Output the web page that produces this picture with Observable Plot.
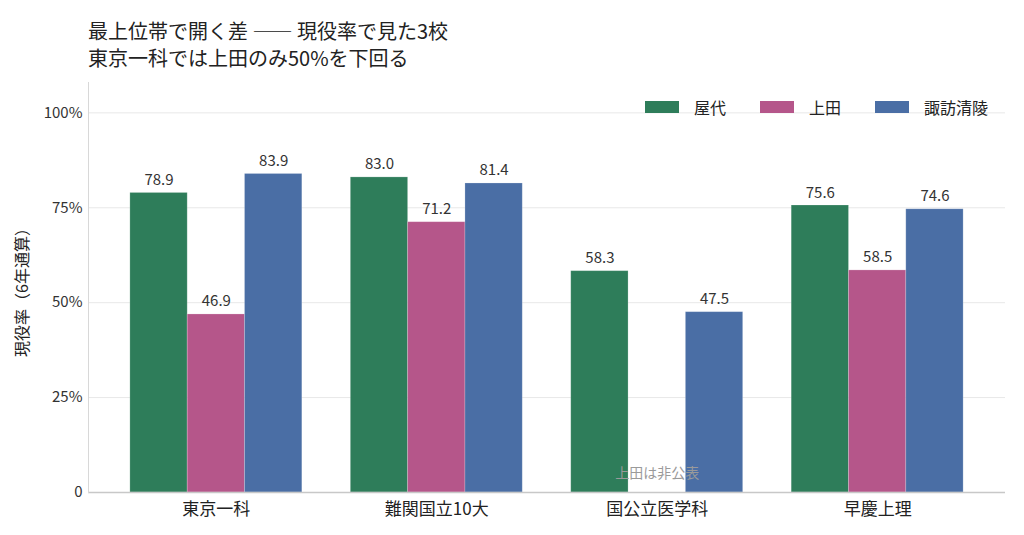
<!DOCTYPE html>
<html>
<head>
<meta charset="utf-8">
<script src="https://cdn.jsdelivr.net/npm/d3@7"></script>
<script src="https://cdn.jsdelivr.net/npm/@observablehq/plot@0.6"></script>
<style>
  body { margin: 0; background: #fff; font-family: "Noto Sans CJK JP", "Noto Sans", sans-serif; }
  #wrap { position: relative; width: 1024px; height: 535px; }
  #title { box-sizing: border-box; height: 72px; padding: 17px 0 0 88px; font-size: 20px; line-height: 27px; color: #222; }
  #legend { position: absolute; top: 95px; left: 645px; display: flex; font-size: 16px; color: #222; }
  .item { display: flex; align-items: center; margin-right: 34px; }
  .sw { width: 34px; height: 12px; margin-right: 15px; }
</style>
</head>
<body>
<div id="wrap">
  <div id="title">最上位帯で開く差 ―― 現役率で見た3校<br>東京一科では上田のみ50%を下回る</div>
  <div id="chart"></div>
  <div id="legend"></div>
</div>
<script>
const categories = ["東京一科", "難関国立10大", "国公立医学科", "早慶上理"];
const schools = ["屋代", "上田", "諏訪清陵"];
const colors = ["#2e7d5a", "#b5568a", "#4a6ea5"];
const yashiro = [78.9, 83.0, 58.3, 75.6];
const ueda = [46.9, 71.2, null, 58.5];
const suwa = [83.9, 81.4, 47.5, 74.6];
const yTicks = [0, 25, 50, 75, 100];
const yLabel = "現役率（6年通算）";
const notes = [{cat: "国公立医学科", note: "上田は非公表"}];

// group layout in category units
const groupWidth = 0.78;
const barWidth = groupWidth / schools.length;

const series = [yashiro, ueda, suwa];
const data = [];
categories.forEach((c, i) => {
  schools.forEach((s, j) => {
    const v = series[j][i];
    if (v != null) {
      const x1 = i - groupWidth / 2 + j * barWidth;
      data.push({cat: c, idx: i, school: s, value: v, x1, x2: x1 + barWidth, xm: x1 + barWidth / 2});
    }
  });
});
const noteData = notes.map(d => ({...d, idx: categories.indexOf(d.cat)}));

const chart = Plot.plot({
  width: 1024,
  height: 463,
  marginTop: 10,
  marginBottom: 43,
  marginLeft: 88,
  marginRight: 19,
  style: {fontFamily: '"Noto Sans CJK JP", "Noto Sans", sans-serif', background: "#fff", overflow: "visible"},
  x: {domain: [-0.58, categories.length - 1 + 0.58], label: null},
  y: {domain: [0, 108], label: null},
  color: {domain: schools, range: colors},
  marks: [
    Plot.ruleY(yTicks.filter(d => d > 0), {stroke: "#e8e8e8"}),
    Plot.rectY(data, {x1: "x1", x2: "x2", y1: 0, y2: "value", fill: "school", stroke: "#fff", strokeOpacity: 0.25, strokeWidth: 0.8}),
    Plot.text(data, {x: "xm", y: "value", text: d => d.value.toFixed(1), lineAnchor: "bottom", dy: -8, fontSize: 15, fill: "#333"}),
    Plot.text(noteData, {x: "idx", text: "note", frameAnchor: "bottom", dy: -15, fontSize: 14, fill: "#9a9a9a"}),
    Plot.ruleY([0], {stroke: "#c8c8c8", strokeWidth: 1.5}),
    Plot.frame({anchor: "left", stroke: "#d8d8d8"}),
    Plot.axisY(yTicks, {tickSize: 0, tickPadding: 6, fontSize: 15, fill: "#333", tickFormat: d => d === 0 ? "0" : d + "%", label: null}),
    Plot.text([yLabel], {frameAnchor: "left", textAnchor: "middle", dx: -66, dy: 1, rotate: -90, fontSize: 16, fill: "#222"}),
    Plot.axisX(d3.range(categories.length), {anchor: "bottom", tickSize: 0, tickPadding: 10, fontSize: 17, fill: "#222", tickFormat: i => categories[i], label: null})
  ]
});
document.getElementById("chart").appendChild(chart);

const leg = document.getElementById("legend");
schools.forEach((s, i) => {
  const it = document.createElement("div");
  it.className = "item";
  it.innerHTML = `<div class="sw" style="background:${colors[i]}"></div><span>${s}</span>`;
  leg.appendChild(it);
});
</script>
</body>
</html>
